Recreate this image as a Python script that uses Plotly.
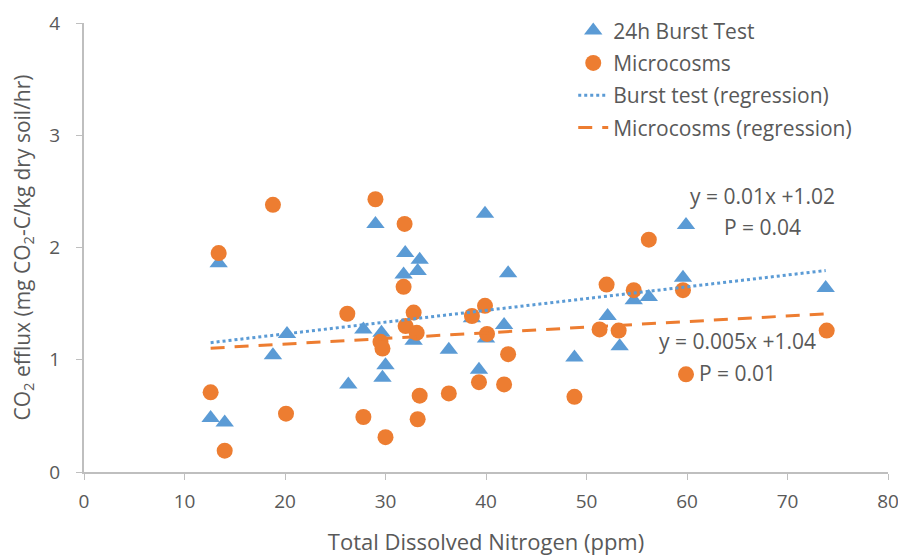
import plotly.graph_objects as go

# 24h Burst Test
burst_x = [12.6, 14.0, 13.4, 18.8, 20.2, 26.3, 27.8, 29.0, 29.6, 29.7, 30.0, 31.8, 31.96, 33.2, 33.4,
           32.8, 36.3, 38.6, 39.3, 39.9, 40.0, 41.8, 42.2, 48.8, 52.1, 53.3, 54.7, 56.2, 59.6, 59.9, 73.8]
burst_y = [0.48, 0.44, 1.86, 1.04, 1.23, 0.78, 1.27, 2.21, 1.24, 0.84, 0.95, 1.76, 1.95, 1.79, 1.89,
           1.17, 1.09, 1.37, 0.91, 2.30, 1.19, 1.31, 1.77, 1.02, 1.39, 1.12, 1.53, 1.56, 1.73, 2.20, 1.64]

# Microcosms
micro_x = [12.6, 14.0, 13.4, 18.8, 20.1, 26.2, 27.8, 29.0, 29.5, 29.7, 30.0, 31.8, 31.9, 32.0, 32.8, 33.1, 33.2,
           33.4, 36.3, 38.6, 39.3, 39.9, 40.1, 41.8, 42.2, 48.8, 51.3, 52.0, 53.2, 54.7, 56.2, 59.6, 59.9, 73.9]
micro_y = [0.71, 0.19, 1.95, 2.38, 0.52, 1.41, 0.49, 2.43, 1.16, 1.10, 0.31, 1.65, 2.21, 1.30, 1.42, 1.24, 0.47,
           0.68, 0.70, 1.39, 0.80, 1.48, 1.23, 0.78, 1.05, 0.67, 1.27, 1.67, 1.26, 1.62, 2.07, 1.62, 0.87, 1.26]

# regression coefficients (slope, intercept)
burst_fit = (0.0105, 1.02)
micro_fit = (0.005, 1.04)

x_ticks = [0, 10, 20, 30, 40, 50, 60, 70, 80]
y_ticks = [0, 1, 2, 3, 4]

BLUE = "#5B9BD5"
ORANGE = "#ED7D31"
FONT = "Open Sans"
GREY = "#595959"

def fit_line(xs, fit):
    x0, x1 = min(xs), max(xs)
    return [x0, x1], [fit[0] * x0 + fit[1], fit[0] * x1 + fit[1]]

fig = go.Figure()
fig.add_trace(go.Scatter(x=burst_x, y=burst_y, mode="markers", name="24h Burst Test", legendgroup="a",
                         marker=dict(symbol="triangle-up", size=16, color=BLUE)))
fig.add_trace(go.Scatter(x=micro_x, y=micro_y, mode="markers", name="Microcosms", legendgroup="b",
                         marker=dict(symbol="circle", size=16, color=ORANGE)))
bx, by = fit_line(burst_x, burst_fit)
fig.add_trace(go.Scatter(x=bx, y=by, mode="lines", name="Burst test (regression)", legendgroup="c",
                         line=dict(color=BLUE, width=3, dash="dot")))
mx, my = fit_line(micro_x, micro_fit)
fig.add_trace(go.Scatter(x=mx, y=my, mode="lines", name="Microcosms (regression)", legendgroup="d",
                         line=dict(color=ORANGE, width=3, dash="14px,10px")))

ann_font = dict(family=FONT, size=21, color=GREY)
fig.add_annotation(x=67.5, y=2.46, text="y = 0.01x +1.02", showarrow=False, font=ann_font)
fig.add_annotation(x=67.5, y=2.18, text="P = 0.04", showarrow=False, font=ann_font)
fig.add_annotation(x=65.0, y=1.17, text="y = 0.005x +1.04", showarrow=False, font=ann_font)
fig.add_annotation(x=65.0, y=0.88, text="P = 0.01", showarrow=False, font=ann_font)

axis_common = dict(showgrid=False, zeroline=False, showline=True, linecolor="#BFBFBF", linewidth=2,
                   ticks="outside", ticklen=6, tickcolor="#BFBFBF", tickwidth=1, automargin=False,
                   tickfont=dict(family=FONT, size=19, color=GREY))
fig.update_xaxes(range=[0, 80], tickvals=x_ticks, ticklabelstandoff=5, **axis_common,
                 title=dict(text="Total Dissolved Nitrogen (ppm)", font=dict(family=FONT, size=22, color=GREY), standoff=22))
fig.update_yaxes(range=[0, 4], tickvals=y_ticks, ticklabelstandoff=12, **axis_common,
                 title=dict(text="CO<sub>2</sub> efflux (mg CO<sub>2</sub>-C/kg dry soil/hr)",
                            font=dict(family=FONT, size=21, color=GREY), standoff=17))

fig.update_layout(
    width=898, height=548,
    margin=dict(l=76, r=18, t=15, b=84, autoexpand=False),
    paper_bgcolor="white", plot_bgcolor="white",
    legend=dict(x=0.6085, y=1.028, xanchor="left", yanchor="top",
                font=dict(family=FONT, size=21, color=GREY),
                tracegroupgap=2, bgcolor="rgba(255,255,255,0)"),
    showlegend=True,
)

fig.write_html("out.html")
